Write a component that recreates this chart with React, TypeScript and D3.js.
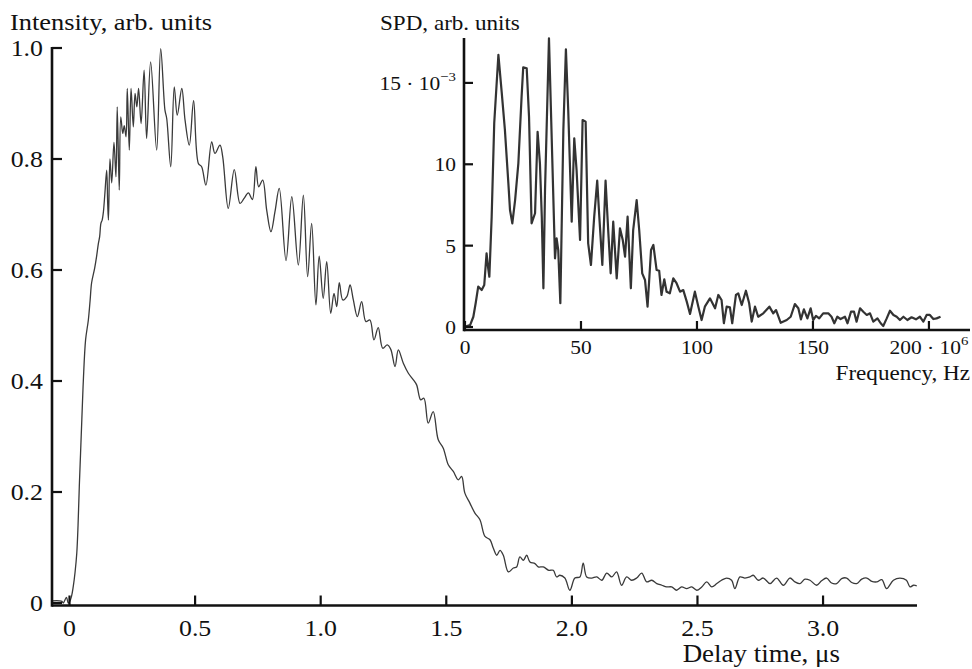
import React from "react";
import * as d3 from "d3";

// ---------- Main chart data: Intensity vs delay time (µs) ----------
const mainT = [
  -0.069, -0.04, -0.03, -0.025, -0.012, -0.005, 0.0, 0.008, 0.015, 0.022, 0.029, 0.034, 0.039, 0.044,
  0.049, 0.055, 0.064, 0.075, 0.082, 0.088, 0.1, 0.108, 0.115, 0.12, 0.125, 0.13, 0.135, 0.141, 0.148,
  0.152, 0.155, 0.161, 0.168, 0.177, 0.185, 0.19, 0.198, 0.204, 0.212, 0.218, 0.225, 0.23, 0.238, 0.245,
  0.254, 0.261, 0.268, 0.275, 0.285, 0.297, 0.307, 0.323, 0.347, 0.363, 0.38, 0.387, 0.403, 0.417, 0.429,
  0.447, 0.46, 0.477, 0.494, 0.513, 0.526, 0.543, 0.566, 0.579, 0.599, 0.61, 0.632, 0.656, 0.679, 0.695,
  0.712, 0.728, 0.742, 0.753, 0.769, 0.785, 0.802, 0.818, 0.835, 0.862, 0.885, 0.911, 0.931, 0.948, 0.964,
  0.981, 0.994, 1.01, 1.024, 1.04, 1.053, 1.064, 1.074, 1.088, 1.104, 1.117, 1.13, 1.146, 1.163, 1.18,
  1.196, 1.212, 1.229, 1.247, 1.265, 1.279, 1.296, 1.309, 1.329, 1.349, 1.369, 1.382, 1.398, 1.411, 1.428,
  1.448, 1.468, 1.488, 1.508, 1.528, 1.548, 1.561, 1.574, 1.594, 1.614, 1.634, 1.654, 1.674, 1.687, 1.701,
  1.714, 1.727, 1.747, 1.767, 1.78, 1.793, 1.807, 1.82, 1.833, 1.853, 1.866, 1.886, 1.908, 1.926, 1.939,
  1.952, 1.972, 1.992, 2.012, 2.032, 2.045, 2.059, 2.079, 2.099, 2.119, 2.139, 2.159, 2.178, 2.198, 2.218,
  2.238, 2.258, 2.278, 2.298, 2.318, 2.338, 2.358, 2.377, 2.397, 2.417, 2.437, 2.457, 2.477, 2.497, 2.517,
  2.537, 2.557, 2.577, 2.596, 2.616, 2.636, 2.649, 2.669, 2.689, 2.709, 2.722, 2.742, 2.762, 2.789, 2.815,
  2.842, 2.868, 2.888, 2.908, 2.928, 2.948, 2.974, 2.994, 3.014, 3.034, 3.054, 3.074, 3.094, 3.114, 3.134,
  3.154, 3.174, 3.194, 3.214, 3.234, 3.253, 3.28, 3.306, 3.332, 3.346, 3.36, 3.373,
];
const mainI = [
  0.004, 0.004, 0.003, 0.0, 0.01, 0.0, 0.002, 0.012, 0.03, 0.055, 0.09, 0.14, 0.21, 0.27,
  0.33, 0.4, 0.474, 0.51, 0.545, 0.577, 0.603, 0.625, 0.648, 0.66, 0.684, 0.69, 0.705, 0.739, 0.78,
  0.72, 0.69, 0.8, 0.757, 0.83, 0.768, 0.894, 0.744, 0.876, 0.846, 0.86, 0.84, 0.927, 0.816, 0.927,
  0.858, 0.918, 0.894, 0.927, 0.864, 0.96, 0.837, 0.975, 0.816, 0.999, 0.888, 0.873, 0.786, 0.93, 0.879,
  0.927, 0.87, 0.825, 0.905, 0.792, 0.786, 0.753, 0.831, 0.81, 0.825, 0.804, 0.711, 0.781, 0.72, 0.729,
  0.739, 0.727, 0.786, 0.75, 0.762, 0.708, 0.669, 0.705, 0.747, 0.617, 0.732, 0.609, 0.735, 0.588, 0.684,
  0.537, 0.625, 0.549, 0.615, 0.522, 0.558, 0.534, 0.577, 0.546, 0.552, 0.573, 0.546, 0.516, 0.543, 0.507,
  0.51, 0.474, 0.496, 0.459, 0.465, 0.457, 0.426, 0.456, 0.432, 0.414, 0.402, 0.393, 0.366, 0.369, 0.324,
  0.345, 0.294, 0.279, 0.249, 0.237, 0.222, 0.228, 0.198, 0.18, 0.162, 0.15, 0.12, 0.114, 0.099, 0.086,
  0.095, 0.086, 0.056, 0.063, 0.065, 0.083, 0.077, 0.086, 0.074, 0.071, 0.065, 0.065, 0.059, 0.059, 0.047,
  0.05, 0.045, 0.023, 0.045, 0.047, 0.072, 0.047, 0.045, 0.047, 0.041, 0.054, 0.047, 0.056, 0.032, 0.047,
  0.041, 0.045, 0.054, 0.038, 0.041, 0.035, 0.032, 0.029, 0.029, 0.023, 0.029, 0.026, 0.029, 0.023, 0.029,
  0.038, 0.029, 0.035, 0.041, 0.045, 0.041, 0.026, 0.047, 0.045, 0.047, 0.05, 0.041, 0.045, 0.035, 0.045,
  0.032, 0.045, 0.038, 0.035, 0.043, 0.041, 0.032, 0.04, 0.045, 0.036, 0.035, 0.044, 0.045, 0.037, 0.035,
  0.043, 0.045, 0.039, 0.038, 0.042, 0.026, 0.041, 0.045, 0.041, 0.029, 0.032, 0.031,
];

// ---------- Inset data: SPD (×10^-3) vs frequency (×10^6 Hz) ----------
const insetF = [
  0.5, 2.2, 3.6, 4.6, 5.7, 7.2, 8.3, 9.3, 10.0, 10.5, 11.5, 12.6, 14.4, 15.8, 17.2, 18.7, 19.4, 20.4,
  21.6, 23.0, 24.4, 25.1, 26.6, 27.6, 28.7, 30.2, 31.3, 32.3, 33.1, 33.8, 34.5, 36.2, 37.4, 38.8, 39.5,
  40.2, 41.1, 42.4, 43.5, 44.5, 45.3, 46.0, 47.1, 48.1, 49.6, 50.7, 52.0, 53.1, 54.3, 55.7, 57.0, 57.9,
  59.2, 60.6, 61.8, 62.8, 63.9, 65.4, 66.8, 68.0, 69.0, 70.1, 71.5, 72.5, 74.0, 75.1, 76.4, 77.6, 78.7,
  80.2, 81.2, 82.6, 83.7, 84.7, 85.9, 86.9, 88.3, 89.8, 91.2, 92.7, 94.1, 95.6, 97.0, 99.1, 100.6, 102.0,
  103.4, 105.6, 107.8, 109.2, 110.6, 111.6, 112.8, 114.2, 115.2, 116.8, 117.8, 119.3, 121.1, 122.5, 123.6,
  125.0, 126.4, 128.6, 131.2, 132.9, 134.1, 136.1, 138.7, 140.4, 142.2, 143.7, 144.8, 146.1, 147.6, 149.0,
  150.1, 151.3, 152.7, 154.4, 156.6, 158.0, 159.2, 160.5, 161.9, 163.8, 164.9, 166.4, 167.7, 168.8, 170.3,
  171.7, 173.2, 174.6, 176.0, 177.8, 179.2, 180.3, 181.8, 183.2, 184.7, 186.1, 187.5, 189.0, 190.7, 192.5,
  194.4, 196.1, 197.6, 199.0, 200.4, 201.9, 203.3, 205.0,
];
const insetS = [
  0.05, 0.12, 0.63, 1.46, 2.48, 2.27, 2.58, 4.53, 3.6, 3.09, 6.78, 12.52, 16.72, 14.46, 12.11, 8.83, 7.19, 6.37,
  7.8, 10.06, 14.16, 15.96, 15.9, 12.93, 6.37, 6.99, 12.0, 10.06, 6.78, 2.38, 8.42, 17.74, 11.49, 4.22, 5.45,
  4.73, 1.46, 12.11, 17.07, 13.34, 9.65, 6.47, 11.6, 9.65, 5.35, 12.72, 12.62, 5.14, 3.81, 6.78, 8.99, 6.78,
  3.81, 8.99, 5.76, 3.3, 6.47, 2.99, 6.07, 5.35, 4.32, 6.78, 2.38, 5.96, 7.8, 5.96, 3.3, 2.89, 1.25,
  4.73, 5.04, 3.5, 3.46, 1.97, 2.93, 2.17, 2.07, 2.99, 2.69, 2.17, 2.27, 1.56, 0.8, 2.17, 1.25, 0.43,
  1.25, 1.76, 1.15, 1.97, 1.66, 0.23, 1.25, 1.21, 0.23, 1.97, 2.07, 1.35, 2.23, 1.46, 0.33,
  1.25, 0.63, 0.84, 1.25, 0.84, 1.04, 0.26, 0.43, 0.63, 1.41, 1.15, 0.47, 1.09, 0.53, 1.15,
  0.43, 0.68, 0.53, 0.84, 0.84, 0.63, 0.23, 0.63, 0.49, 0.63, 0.23, 0.94, 0.94, 0.33, 1.15,
  0.94, 0.74, 0.84, 0.33, 0.53, 0.23, 0.06, 0.53, 1.0, 0.74, 0.63, 0.43, 0.63, 0.43, 0.6,
  0.47, 0.63, 0.33, 0.74, 0.74, 0.49, 0.53, 0.63,
];

// ---------- Ticks ----------
const mainXTicks = [0, 0.5, 1.0, 1.5, 2.0, 2.5, 3.0];
const mainXLabels = ["0", "0.5", "1.0", "1.5", "2.0", "2.5", "3.0"];
const mainYTicks = [0, 0.2, 0.4, 0.6, 0.8, 1.0];
const mainYLabels = ["0", "0.2", "0.4", "0.6", "0.8", "1.0"];
const insetXTicks = [0, 50, 100, 150, 200];
const insetXLabels = ["0", "50", "100", "150", "200"];
const insetYTicks = [0, 5, 10, 15];
const insetYLabels = ["0", "5", "10", "15"];

const FONT = "'Liberation Serif', 'Times New Roman', Times, serif";
const INK = "#111";
const SX = 1.1;

function T(props: {
  x: number;
  y: number;
  size: number;
  anchor?: "start" | "middle" | "end";
  children: React.ReactNode;
}) {
  return (
    <text
      transform={`translate(${props.x},${props.y}) scale(${SX},1)`}
      fontSize={props.size}
      fontFamily={FONT}
      fill={INK}
      textAnchor={props.anchor || "start"}
    >
      {props.children}
    </text>
  );
}

export default function App() {
  // main scales
  const mx = d3.scaleLinear().domain([-0.0697, 3.374]).range([52, 917]);
  const my = d3.scaleLinear().domain([-0.0045, 1]).range([605.5, 48]);
  // inset scales
  const ix = d3.scaleLinear().domain([-0.43, 217.7]).range([464, 970]);
  const iy = d3.scaleLinear().domain([-0.184, 17.76]).range([330, 38]);

  const mainLine = d3
    .line<number>()
    .x((_, i) => mx(mainT[i]))
    .y((d) => my(d))
    .curve(d3.curveCatmullRom.alpha(0.5));
  const insetLine = d3
    .line<number>()
    .x((_, i) => ix(insetF[i]))
    .y((d) => iy(d))
    .curve(d3.curveLinear);

  const mainAxisY = my.range()[0];
  const mainAxisX = mx.range()[0];
  const inAxisY = iy.range()[0];
  const inAxisX = ix.range()[0];

  return (
    <svg
      width={972}
      height={669}
      style={{ position: "absolute", left: 0, top: 0, background: "#fff" }}
    >
      <rect x={0} y={0} width={972} height={669} fill="#fff" />

      {/* main curve */}
      <path d={mainLine(mainI) || ""} fill="none" stroke="#3a3a3a" strokeWidth={1.3} strokeLinejoin="round" />

      {/* main axes */}
      <line x1={mainAxisX} x2={mx.range()[1]} y1={mainAxisY} y2={mainAxisY} stroke={INK} strokeWidth={2.6} />
      <line x1={mainAxisX} x2={mainAxisX} y1={my.range()[1] - 1} y2={mainAxisY + 1.3} stroke={INK} strokeWidth={2.6} />
      {mainXTicks.map((t, i) => (
        <g key={"mx" + i}>
          <line x1={mx(t)} x2={mx(t)} y1={mainAxisY} y2={mainAxisY - 10} stroke={INK} strokeWidth={2.2} />
          <T x={mx(t)} y={636} size={23.5} anchor="middle">
            {mainXLabels[i]}
          </T>
        </g>
      ))}
      {mainYTicks.map((t, i) => (
        <g key={"my" + i}>
          <line x1={mainAxisX} x2={mainAxisX + 10} y1={my(t)} y2={my(t)} stroke={INK} strokeWidth={2.2} />
          <T x={43} y={my(t) + 8} size={23.5} anchor="end">
            {mainYLabels[i]}
          </T>
        </g>
      ))}
      <T x={10} y={30} size={24}>
        Intensity, arb. units
      </T>
      <T x={840} y={662} size={24.5} anchor="end">
        Delay time, μs
      </T>

      {/* inset curve */}
      <path d={insetLine(insetS) || ""} fill="none" stroke="#333" strokeWidth={2.2} strokeLinejoin="round" />

      {/* inset axes */}
      <line x1={inAxisX} x2={ix.range()[1]} y1={inAxisY} y2={inAxisY} stroke={INK} strokeWidth={2.6} />
      <line x1={inAxisX} x2={inAxisX} y1={iy.range()[1]} y2={inAxisY + 1.3} stroke={INK} strokeWidth={2.6} />
      {insetXTicks.map((t, i) => (
        <g key={"ix" + i}>
          <line x1={ix(t)} x2={ix(t)} y1={inAxisY} y2={inAxisY - 9} stroke={INK} strokeWidth={2.2} />
          <T x={ix(t)} y={354} size={19.5} anchor="middle">
            {insetXLabels[i]}
            {t === 200 ? (
              <>
                {" · 10"}
                <tspan fontSize={13.5} dy={-9}>
                  6
                </tspan>
              </>
            ) : null}
          </T>
        </g>
      ))}
      {insetYTicks.map((t, i) => (
        <g key={"iy" + i}>
          <line x1={inAxisX} x2={inAxisX + 9} y1={iy(t)} y2={iy(t)} stroke={INK} strokeWidth={2.2} />
          <T x={456} y={iy(t) + 7} size={19.5} anchor="end">
            {insetYLabels[i]}
            {t === 15 ? (
              <>
                {" · 10"}
                <tspan fontSize={13.5} dy={-9}>
                  −3
                </tspan>
              </>
            ) : null}
          </T>
        </g>
      ))}
      <T x={380} y={30} size={21}>
        SPD, arb. units
      </T>
      <T x={970} y={380} size={21} anchor="end">
        Frequency, Hz
      </T>
    </svg>
  );
}
